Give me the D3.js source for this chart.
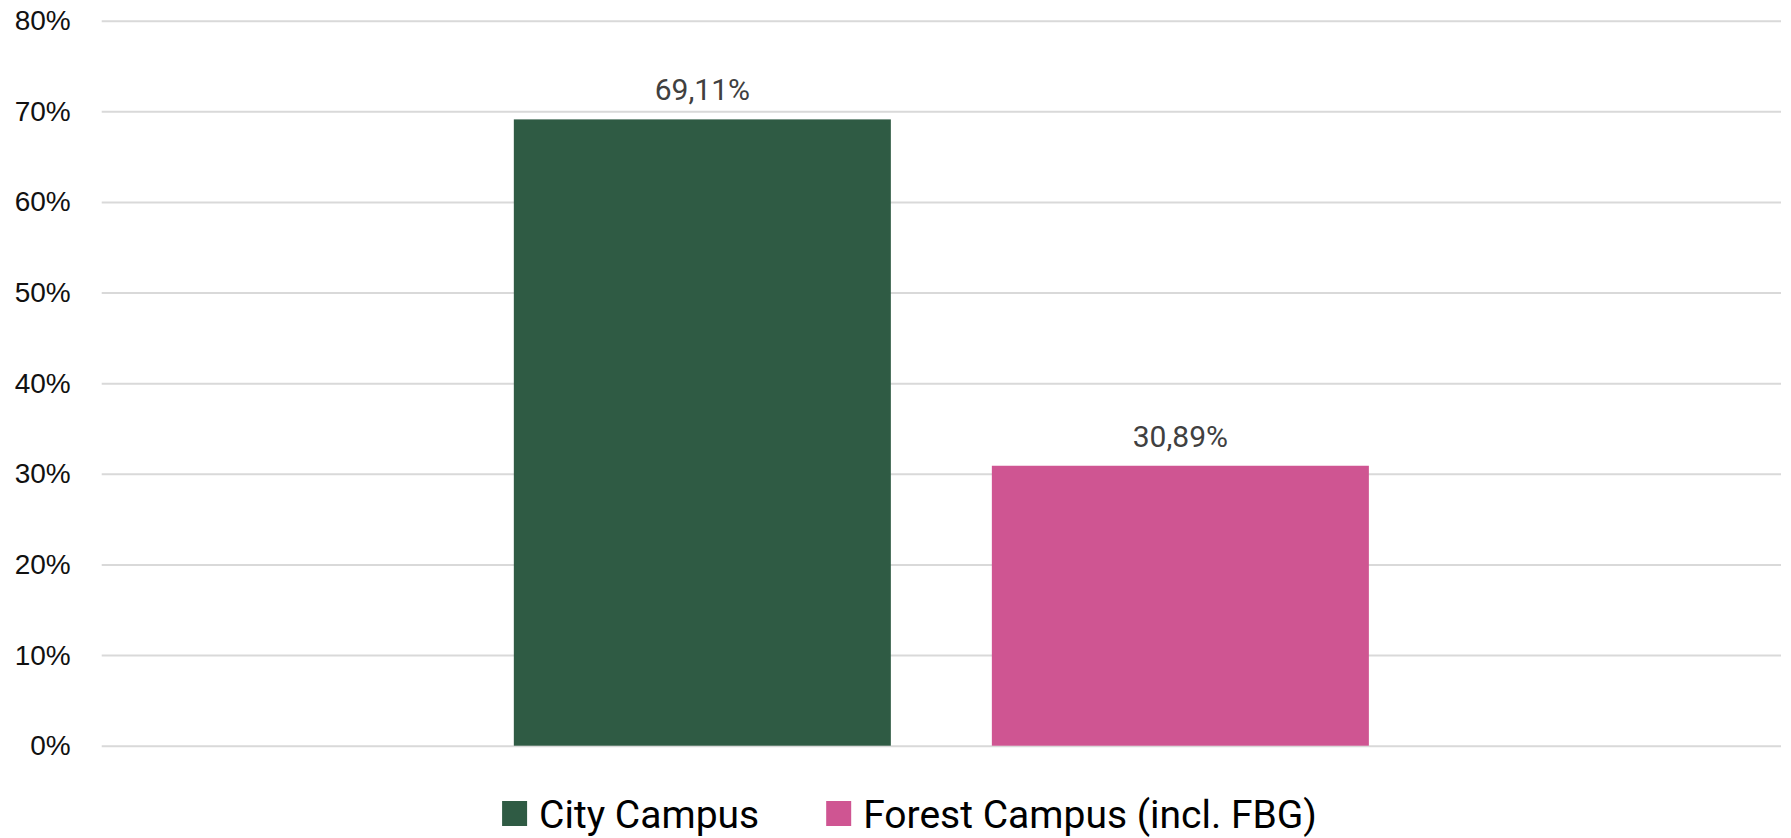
<!DOCTYPE html>
<html>
<head>
<meta charset="utf-8">
<script src="https://cdn.jsdelivr.net/npm/d3@7"></script>
<style>
  body { margin: 0; background: #fff; }
  text { font-family: Roboto, "Open Sans", sans-serif; }
</style>
</head>
<body>
<script>
const categories = ["Campus"];
const series = ["City Campus", "Forest Campus (incl. FBG)"];
const values = [69.11, 30.89];
const valueLabels = ["69,11%", "30,89%"];
const colors = ["#2f5b44", "#cf5592"];
const yTicks = [0, 10, 20, 30, 40, 50, 60, 70, 80];

const W = 1791, H = 838;
const margin = { top: 20.7, right: 10, bottom: 92.3, left: 101.7 };
const width = W - margin.left - margin.right,
  height = H - margin.top - margin.bottom;

const svg = d3.select("body").append("svg")
  .attr("width", W)
  .attr("height", H);

const g = svg.append("g")
  .attr("transform", `translate(${margin.left},${margin.top})`);

const y = d3.scaleLinear().domain([0, 80]).range([height, 0]);

const x0 = d3.scaleBand()
  .domain(categories)
  .range([0, width])
  .paddingInner(0)
  .paddingOuter(0.482);

const x1 = d3.scaleBand()
  .domain(series)
  .range([0, x0.bandwidth()])
  .paddingInner(0.2113)
  .paddingOuter(0);

// gridlines + labels
const yAxis = g.append("g")
  .call(d3.axisLeft(y).tickValues(yTicks).tickSize(-width).tickFormat(d => d + "%"));
yAxis.select(".domain").remove();
yAxis.selectAll(".tick line").attr("stroke", "#d9d9d9").attr("stroke-width", 2);
yAxis.selectAll(".tick text")
  .attr("x", -31)
  .attr("fill", "#111")
  .style("font-size", "28px")
  .style("font-family", "'Liberation Sans', Arial, sans-serif");

// bars
const grp = g.append("g")
  .attr("transform", `translate(${x0(categories[0])},0)`);

grp.selectAll("rect")
  .data(series)
  .join("rect")
  .attr("x", d => x1(d))
  .attr("y", (d, i) => y(values[i]))
  .attr("width", x1.bandwidth())
  .attr("height", (d, i) => y(0) - y(values[i]))
  .attr("fill", (d, i) => colors[i]);

grp.selectAll("text.val")
  .data(series)
  .join("text")
  .attr("class", "val")
  .attr("x", d => x1(d) + x1.bandwidth() / 2)
  .attr("y", (d, i) => y(values[i]) - 19)
  .attr("text-anchor", "middle")
  .attr("fill", "#404040")
  .style("font-size", "30px")
  .text((d, i) => valueLabels[i]);

// legend
const legend = svg.append("g");
const items = legend.selectAll("g")
  .data(series)
  .join("g");

items.append("rect")
  .attr("width", 25)
  .attr("height", 25)
  .attr("y", 801)
  .attr("fill", (d, i) => colors[i]);

items.append("text")
  .attr("x", 37)
  .attr("y", 828)
  .attr("fill", "#000")
  .style("font-size", "39px")
  .text(d => d);

const itemWidths = [];
items.each(function () {
  const w = 37 + d3.select(this).select("text").node().getComputedTextLength();
  itemWidths.push(w);
});
const gap = 67;
const total = d3.sum(itemWidths) + gap * (itemWidths.length - 1);
let start = 909.5 - total / 2;
items.attr("transform", (d, i) => {
  const t = `translate(${start},0)`;
  start += itemWidths[i] + gap;
  return t;
});
</script>
</body>
</html>
